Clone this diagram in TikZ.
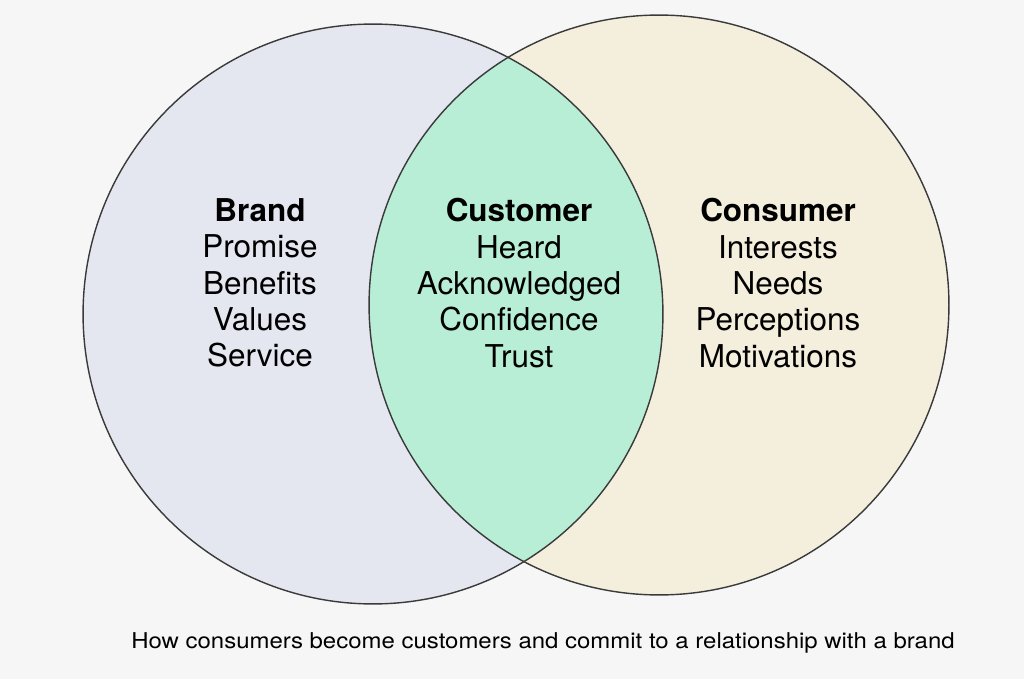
\documentclass[tikz,border=0pt]{standalone}
\usepackage{fontspec}
\setmainfont{TeX Gyre Heros}
\usepackage{xcolor}
\definecolor{bgcol}{HTML}{F6F6F6}
\definecolor{brandcol}{HTML}{E4E6F0}
\definecolor{consumercol}{HTML}{F4EEDD}
\definecolor{customercol}{HTML}{B8EED6}
\definecolor{rimcol}{HTML}{3A3A3A}
\tikzset{
setcircle/.style={circle, draw=none, inner sep=0pt, minimum size=11.6cm},
rimline/.style={draw=rimcol, line width=0.8pt},
wordlist/.style={align=center, inner sep=0pt, font=\fontsize{17.9}{20.7}\selectfont},
captiontext/.style={inner sep=0pt, xscale=1.1, font=\fontsize{12.4}{14}\selectfont},
}

\begin{document}
\begin{tikzpicture}[x=0.02cm,y=-0.02cm]
        \useasboundingbox[fill=bgcol] (0,0) rectangle (1024,679);
        \node[setcircle, fill=brandcol] at (373,314) (brand) {};
        \node[setcircle, fill=consumercol] at (659,305) (consumer) {};
        \begin{scope}
        \clip (brand.center) circle[radius=5.8cm];
        \fill[customercol] (consumer.center) circle[radius=5.8cm];
        \end{scope}
        \draw[rimline] (brand.center) circle[radius=5.8cm];
        \draw[rimline] (consumer.center) circle[radius=5.8cm];
        \node[wordlist] at (260,283) (brandtext) {\textbf{Brand}\\Promise\\Benefits\\Values\\Service};
        \node[wordlist] at (519,283) (customertext) {\textbf{Customer}\\Heard\\Acknowledged\\Confidence\\Trust};
        \node[wordlist] at (778,283) (consumertext) {\textbf{Consumer}\\Interests\\Needs\\Perceptions\\Motivations};
        \node[captiontext] at (543,643) (caption) {How consumers become customers and commit to a relationship with a brand};
    \end{tikzpicture}
\end{document}
